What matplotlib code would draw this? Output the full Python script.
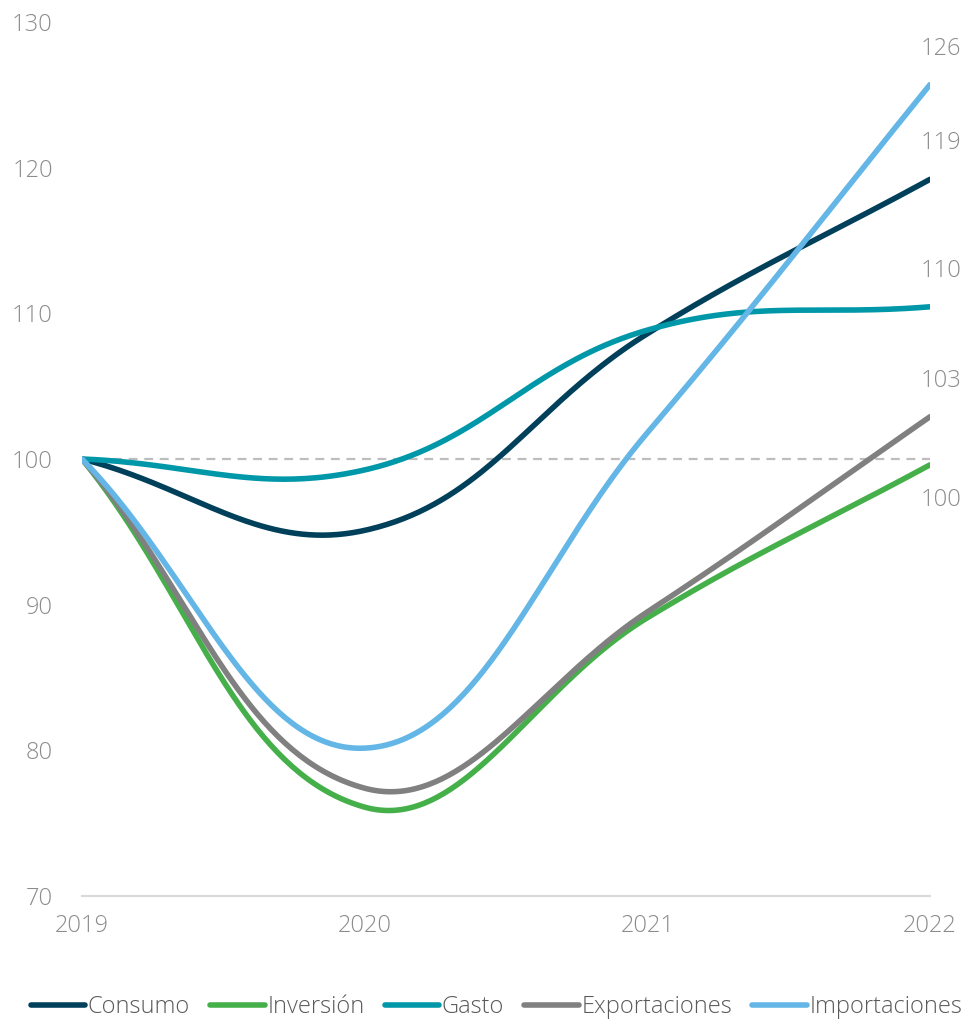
import numpy as np
import matplotlib
matplotlib.use("Agg")
import matplotlib.pyplot as plt

plt.rcParams['font.family'] = ['Open Sans', 'DejaVu Sans']

years = [2019, 2020, 2021, 2022]
series_names = ["Consumo", "Inversión", "Gasto", "Exportaciones", "Importaciones"]
consumo = [100, 95.1, 108.6, 119.2]
inversion = [100, 76.1, 89.1, 99.6]
gasto = [100, 99.25, 108.85, 110.45]
exportaciones = [100, 77.4, 89.5, 102.9]
importaciones = [100, 80.15, 101.8, 125.7]
end_labels = ["119", "100", "110", "103", "126"]

colors = ["#00405b", "#45b04a", "#0098a8", "#808080", "#63b6e6"]
grey_text = "#8c8c8c"


def spline_path(ax, xs, ys, tension=0.4, n=80):
    # cubic bezier through the points, control points as in a tension spline
    pts = ax.transData.transform(np.column_stack([xs, ys]))
    k = len(pts)
    prev_c = [None] * k
    next_c = [None] * k
    for i in range(k):
        p = pts[i]
        a = pts[i - 1] if i > 0 else p
        b = pts[i + 1] if i < k - 1 else p
        d01 = np.hypot(*(p - a))
        d12 = np.hypot(*(b - p))
        tot = d01 + d12
        s01 = d01 / tot if tot else 0
        s12 = d12 / tot if tot else 0
        prev_c[i] = p - tension * s01 * (b - a)
        next_c[i] = p + tension * s12 * (b - a)
    out = [pts[:1]]
    t = np.linspace(0, 1, n)[1:, None]
    for i in range(k - 1):
        p0, c1, c2, p1 = pts[i], next_c[i], prev_c[i + 1], pts[i + 1]
        seg = ((1 - t) ** 3) * p0 + 3 * ((1 - t) ** 2) * t * c1 + 3 * (1 - t) * t ** 2 * c2 + t ** 3 * p1
        out.append(seg)
    curve = np.vstack(out)
    data = ax.transData.inverted().transform(curve)
    return data[:, 0], data[:, 1]


fig = plt.figure(figsize=(9.68, 10.34), dpi=100)
ax = fig.add_axes([82 / 968, 138 / 1034, 848 / 968, 874 / 1034])
ax.set_xlim(2019, 2022)
ax.set_ylim(70, 130)

ax.axhline(100, color="#bdbdbd", lw=1.6, ls=(0, (4, 3)), zorder=1)

all_series = [consumo, inversion, gasto, exportaciones, importaciones]
for name, vals, col, lab in zip(series_names, all_series, colors, end_labels):
    cx, cy = spline_path(ax, years, vals)
    ax.plot(cx, cy, color=col, lw=4.0, solid_capstyle='round', label=name, zorder=3)
    dy = -25 if name == "Inversión" else 26
    ax.annotate(lab, (years[-1], vals[-1]), xytext=(8, dy), textcoords='offset points',
                ha='center', va='center', fontsize=17, color=grey_text, fontweight='light')

ax.set_xticks(years)
ax.set_yticks(range(70, 131, 10))
ax.tick_params(axis='x', length=0, pad=13, labelsize=17, labelcolor=grey_text)
ax.tick_params(axis='y', length=0, pad=21, labelsize=17, labelcolor=grey_text)
for lbl in ax.get_xticklabels() + ax.get_yticklabels():
    lbl.set_fontweight('light')

for side in ['top', 'right', 'left']:
    ax.spines[side].set_visible(False)
ax.spines['bottom'].set_color("#d9d9d9")
ax.spines['bottom'].set_linewidth(1.5)

leg = fig.legend(loc='lower center', bbox_to_anchor=(0.513, -0.006), ncol=5, frameon=False,
                 fontsize=17, handlelength=2.3, handletextpad=0.12, columnspacing=0.85)
for t in leg.get_texts():
    t.set_color("#5a5a5a")
    t.set_fontweight('light')

fig.savefig("out.png", dpi=100)
